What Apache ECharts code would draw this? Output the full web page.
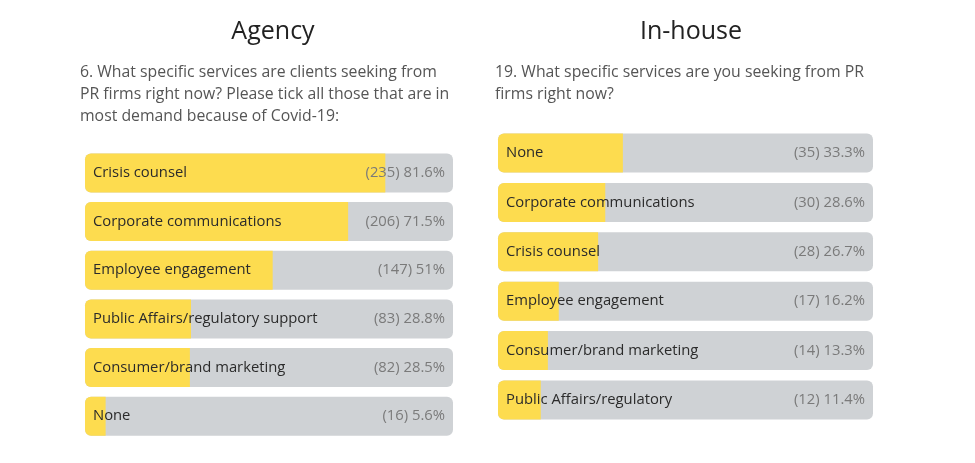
<!DOCTYPE html>
<html><head><meta charset="utf-8">
<script src="https://cdn.jsdelivr.net/npm/echarts@6/dist/echarts.min.js"></script>
<style>html,body{margin:0;padding:0;background:#fff}#c{width:975px;height:463px}</style>
</head><body><div id="c"></div>
<script>
const agencyCategories = ['Crisis counsel','Corporate communications','Employee engagement','Public Affairs/regulatory support','Consumer/brand marketing','None'];
const agencyCounts = [235,206,147,83,82,16];
const agencyPercents = [81.6,71.5,51,28.8,28.5,5.6];
const inhouseCategories = ['None','Corporate communications','Crisis counsel','Employee engagement','Consumer/brand marketing','Public Affairs/regulatory'];
const inhouseCounts = [35,30,28,17,14,12];
const inhousePercents = [33.3,28.6,26.7,16.2,13.3,11.4];
const fullScale = 100;

const FONT = 'Open Sans';
const YELLOW = '#FDDC4F';
const GREY = '#CFD2D5';

function panel(idx, cats, counts, pcts) {
  return [
    {
      type: 'bar', xAxisIndex: idx, yAxisIndex: idx, barWidth: 39, barGap: '-100%',
      data: cats.map(() => fullScale),
      itemStyle: { color: GREY, borderRadius: 6 },
      silent: true, z: 1
    },
    {
      type: 'bar', xAxisIndex: idx, yAxisIndex: idx, barWidth: 39, barGap: '-100%',
      data: pcts,
      itemStyle: { color: YELLOW, borderRadius: [6,0,0,6] },
      label: { show: true, position: 'insideLeft', distance: 8, color: '#2b2b2b', fontFamily: FONT, fontSize: 14.8,
        formatter: p => cats[p.dataIndex] },
      z: 2
    },
    {
      type: 'bar', xAxisIndex: idx, yAxisIndex: idx, barWidth: 39, barGap: '-100%',
      data: cats.map(() => fullScale),
      itemStyle: { color: 'rgba(0,0,0,0)' },
      silent: true,
      label: { show: true, position: 'insideRight', distance: 8, color: '#7a7a7a', fontFamily: FONT, fontSize: 14.8,
        formatter: p => '(' + counts[p.dataIndex] + ') ' + pcts[p.dataIndex] + '%' },
      z: 3
    }
  ];
}

const chart = echarts.init(document.getElementById('c'));
chart.setOption({
  animation: false,
  backgroundColor: '#fff',
  title: [
    { text: 'Agency', left: 268, top: 14, textAlign: 'center', textStyle: { fontFamily: FONT, fontSize: 25, fontWeight: 'normal', color: '#222' } },
    { text: 'In-house', left: 686, top: 14, textAlign: 'center', textStyle: { fontFamily: FONT, fontSize: 25, fontWeight: 'normal', color: '#222' } },
    { text: '6. What specific services are clients seeking from\nPR firms right now? Please tick all those that are in\nmost demand because of Covid-19:', left: 75, top: 56,
      textStyle: { fontFamily: FONT, fontSize: 15.8, fontWeight: 'normal', color: '#555', lineHeight: 22 } },
    { text: '19. What specific services are you seeking from PR\nfirms right now?', left: 490, top: 56,
      textStyle: { fontFamily: FONT, fontSize: 15.8, fontWeight: 'normal', color: '#555', lineHeight: 22 } }
  ],
  grid: [
    { left: 85, width: 368, top: 148.6, height: 292 },
    { left: 498, width: 375, top: 128.3, height: 296.4 }
  ],
  xAxis: [
    { gridIndex: 0, type: 'value', min: 0, max: fullScale, show: false },
    { gridIndex: 1, type: 'value', min: 0, max: fullScale, show: false }
  ],
  yAxis: [
    { gridIndex: 0, type: 'category', data: agencyCategories, inverse: true, show: false },
    { gridIndex: 1, type: 'category', data: inhouseCategories, inverse: true, show: false }
  ],
  series: [
    ...panel(0, agencyCategories, agencyCounts, agencyPercents),
    ...panel(1, inhouseCategories, inhouseCounts, inhousePercents)
  ]
});
</script></body></html>
